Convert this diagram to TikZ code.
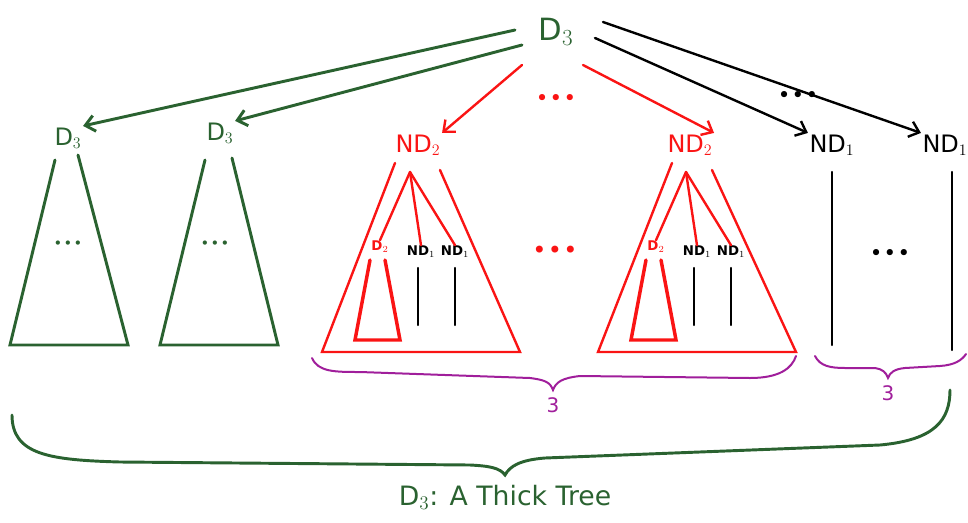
\documentclass[tikz,border=0pt]{standalone}
\usepackage{fontspec}
\setmainfont{DejaVu Sans}
\usetikzlibrary{arrows.meta}
\definecolor{tgreen}{RGB}{42,98,48}
\definecolor{tred}{RGB}{250,20,20}
\definecolor{tpurple}{RGB}{160,30,155}
\newcommand{\tdots}{\textbullet\kern1pt\textbullet\kern1pt\textbullet}
\tikzset{
  lbl/.style={inner sep=1pt, font=\fontsize{18}{19}\selectfont},
  smalllbl/.style={inner sep=0.5pt, font=\fontsize{10}{11}\selectfont\bfseries},
  gline/.style={draw=tgreen, line width=2.2pt, line cap=round},
  rline/.style={draw=tred, line width=1.8pt, line cap=round},
  bline/.style={draw=black, line width=1.8pt, line cap=round},
  garrow/.style={gline, -{Straight Barb[length=7pt,width=12pt]}},
  rarrow/.style={rline, -{Straight Barb[length=7pt,width=12pt]}},
  barrow/.style={bline, -{Straight Barb[length=7pt,width=12pt]}},
  dots/.style={inner sep=0pt, font=\fontsize{16}{16}\selectfont}
}
\begin{document}
\begin{tikzpicture}[x=0.75pt,y=-0.75pt]
\useasboundingbox (0,0) rectangle (968,522);
% top
\node[lbl, text=tgreen, font=\fontsize{23}{25}\selectfont] (top) at (556,32) {D$_3$};
% level-1 labels
\node[lbl, text=tgreen] (g1) at (68,138) {D$_3$};
\node[lbl, text=tgreen] (g2) at (220,133) {D$_3$};
\node[lbl, text=tred] (r1) at (418,145) {ND$_2$};
\node[lbl, text=tred] (r2) at (690,145) {ND$_2$};
\node[lbl] (b1) at (832,145) {ND$_1$};
\node[lbl] (b2) at (945,145) {ND$_1$};
% arrows
\coordinate (s1) at (515,30); \coordinate (s2) at (522,45);
\coordinate (s3) at (522,65); \coordinate (s4) at (583,65);
\coordinate (s5) at (595,38); \coordinate (s6) at (603,22);
\draw[garrow] (s1) -- (g1.north east);
\draw[garrow] (s2) -- (g2.north east);
\draw[rarrow] (s3) -- (r1.north east);
\draw[rarrow] (s4) -- (r2.north east);
\draw[barrow] (s5) -- (b1.north west);
\draw[barrow] (s6) -- (b2.north west);
\node[dots, text=tred] (rd1) at (556,100) {\tdots};
\node[dots] (bd1) at (798,97) {\tdots};
% green triangles
\draw[gline] (55,160) -- (10,345) -- (128,345) -- (78,155);
\draw[gline] (205,160) -- (160,345) -- (278,345) -- (232,158);
\node[dots, text=tgreen, font=\fontsize{11}{11}\selectfont] (gd1) at (68,245) {\tdots};
\node[dots, text=tgreen, font=\fontsize{11}{11}\selectfont] (gd2) at (215,245) {\tdots};
% red triangle 1
\draw[rline] (395,163) -- (322,352) -- (520,352) -- (440,170);
\coordinate (a1) at (410,172);
\node[smalllbl, text=tred] (d21) at (380,247) {D$_2$};
\node[smalllbl] (n11) at (421,252) {ND$_1$};
\node[smalllbl] (n12) at (455,252) {ND$_1$};
\draw[rline] (a1) -- (d21.north);
\draw[rline] (a1) -- (n11.north);
\draw[rline] (a1) -- (n12.north);
\draw[rline, line width=2.6pt] (370,260) -- (355,340) -- (400,340) -- (385,260);
\draw[bline] (418,268) -- (418,325);
\draw[bline] (455,268) -- (455,325);
% red dots middle
\node[dots, text=tred, font=\fontsize{18}{18}\selectfont] (rd2) at (555,252) {\tdots};
% red triangle 2
\draw[rline] (672,163) -- (598,352) -- (796,352) -- (712,170);
\coordinate (a2) at (686,172);
\node[smalllbl, text=tred] (d22) at (656,247) {D$_2$};
\node[smalllbl] (n21) at (697,252) {ND$_1$};
\node[smalllbl] (n22) at (731,252) {ND$_1$};
\draw[rline] (a2) -- (d22.north);
\draw[rline] (a2) -- (n21.north);
\draw[rline] (a2) -- (n22.north);
\draw[rline, line width=2.6pt] (646,260) -- (631,340) -- (676,340) -- (661,260);
\draw[bline] (694,268) -- (694,325);
\draw[bline] (731,268) -- (731,325);
% black lines
\draw[bline] (832,172) -- (832,345);
\draw[bline] (952,172) -- (952,350);
\node[dots] (bd2) at (890,255) {\tdots};
% purple braces
\draw[tpurple, line width=1.5pt, line cap=round] (312,358) .. controls (318,372) and (335,372) .. (360,372)
  -- (530,378) .. controls (545,380) and (550,382) .. (553,390)
  .. controls (556,382) and (562,378) .. (580,376) -- (750,378)
  .. controls (780,378) and (792,368) .. (796,356);
\node[text=tpurple, inner sep=0pt, font=\fontsize{15}{15}\selectfont] (p1) at (553,405) {3};
\draw[tpurple, line width=1.5pt, line cap=round] (815,356) .. controls (820,366) and (830,368) .. (845,368)
  -- (875,368) .. controls (882,369) and (886,372) .. (888,378)
  .. controls (890,372) and (895,369) .. (905,368) -- (940,366)
  .. controls (955,365) and (962,360) .. (966,354);
\node[text=tpurple, inner sep=0pt, font=\fontsize{15}{15}\selectfont] (p2) at (888,393) {3};
% big green brace
\draw[gline] (12,415) .. controls (12,455) and (50,460) .. (120,462)
  -- (470,465) .. controls (490,466) and (500,468) .. (505,475)
  .. controls (510,466) and (520,460) .. (545,458) -- (880,445)
  .. controls (935,440) and (950,420) .. (950,390);
\node[lbl, text=tgreen, font=\fontsize{20}{22}\selectfont] (cap) at (505,497) {D$_3$: A Thick Tree};
\end{tikzpicture}
\end{document}
